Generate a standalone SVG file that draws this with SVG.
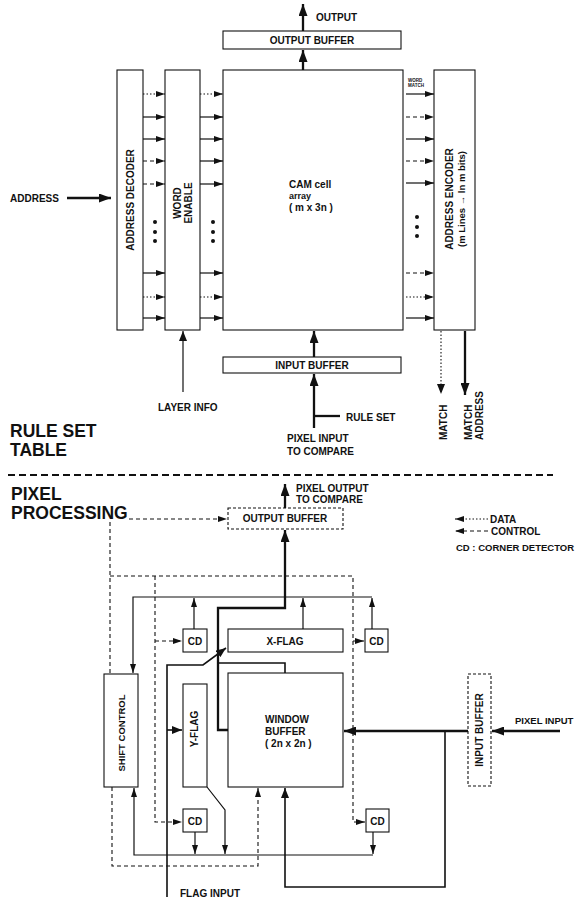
<svg xmlns="http://www.w3.org/2000/svg" width="578" height="904" viewBox="0 0 578 904">
<defs>
<marker id="s" markerUnits="userSpaceOnUse" markerWidth="9" markerHeight="6" refX="9" refY="3" orient="auto"><path d="M0,0 L9,3 L0,6 z" fill="#111"/></marker>
<marker id="m" markerUnits="userSpaceOnUse" markerWidth="10" markerHeight="8" refX="10" refY="4" orient="auto"><path d="M0,0 L10,4 L0,8 z" fill="#111"/></marker>
<marker id="L" markerUnits="userSpaceOnUse" markerWidth="12" markerHeight="9" refX="12" refY="4.5" orient="auto"><path d="M0,0 L12,4.5 L0,9 z" fill="#111"/></marker>
</defs>
<style>
.t{font-family:"Liberation Sans",Arial,sans-serif;font-weight:bold;fill:#111;font-size:10px}
.h{font-size:17.5px}
.box{fill:#fff;stroke:#111;stroke-width:1.1}
.dbox{fill:#fff;stroke:#111;stroke-width:1.1;stroke-dasharray:3 2}
.ln{fill:none;stroke:#111;stroke-width:1.2}
.md{fill:none;stroke:#111;stroke-width:1.6}
.th{fill:none;stroke:#111;stroke-width:2.3}
.dash{fill:none;stroke:#111;stroke-width:1.1;stroke-dasharray:4 3}
.dot{fill:none;stroke:#111;stroke-width:1.1;stroke-dasharray:1.5 2}
</style>
<rect width="578" height="904" fill="#fff"/>

<!-- ===== RULE SET TABLE ===== -->
<g id="connectors-top">
<path class="th" d="M303,31 V4" marker-end="url(#L)"/>
<path class="th" d="M303,70 V50" marker-end="url(#L)"/>
<path class="th" d="M67,198 H111" marker-end="url(#L)"/>
<path class="th" d="M314,357 V331" marker-end="url(#L)"/>
<path class="th" d="M314,428 V374" marker-end="url(#L)"/>
<path class="th" d="M314,416 H340"/>
<path class="ln" d="M183,392 V331" marker-end="url(#m)"/>
<path class="dot" d="M441,331 V394" marker-end="url(#m)"/>
<path class="th" d="M465,331 V395" marker-end="url(#L)"/>
<!-- decoder -> word enable -->
<path class="dot" d="M143,94 H165" marker-end="url(#s)"/>
<path class="ln" d="M143,117 H165" marker-end="url(#s)"/>
<path class="ln" d="M143,139 H165" marker-end="url(#s)"/>
<path class="dash" d="M143,161 H165" marker-end="url(#s)"/>
<path class="dash" d="M143,184 H165" marker-end="url(#s)"/>
<path class="ln" d="M143,273 H165" marker-end="url(#s)"/>
<path class="dot" d="M143,297 H165" marker-end="url(#s)"/>
<path class="ln" d="M143,318 H165" marker-end="url(#s)"/>
<!-- word enable -> CAM -->
<path class="dot" d="M200,94 H223" marker-end="url(#s)"/>
<path class="ln" d="M200,117 H223" marker-end="url(#s)"/>
<path class="ln" d="M200,139 H223" marker-end="url(#s)"/>
<path class="ln" d="M200,161 H223" marker-end="url(#s)"/>
<path class="ln" d="M200,184 H223" marker-end="url(#s)"/>
<path class="ln" d="M200,273 H223" marker-end="url(#s)"/>
<path class="dot" d="M200,297 H223" marker-end="url(#s)"/>
<path class="ln" d="M200,318 H223" marker-end="url(#s)"/>
<!-- CAM -> encoder -->
<path class="ln" d="M406,94 H434" marker-end="url(#s)"/>
<path class="dash" d="M406,117 H434" marker-end="url(#s)"/>
<path class="ln" d="M406,139 H434" marker-end="url(#s)"/>
<path class="dash" d="M406,161 H434" marker-end="url(#s)"/>
<path class="ln" d="M406,183 H434" marker-end="url(#s)"/>
<path class="dash" d="M406,273 H434" marker-end="url(#s)"/>
<path class="dot" d="M406,297 H434" marker-end="url(#s)"/>
<path class="ln" d="M406,318 H434" marker-end="url(#s)"/>
<g fill="#111">
<circle cx="155" cy="222" r="2"/><circle cx="155" cy="232" r="2"/><circle cx="155" cy="241" r="2"/>
<circle cx="213" cy="222" r="2"/><circle cx="213" cy="232" r="2"/><circle cx="213" cy="241" r="2"/>
<circle cx="417" cy="217" r="2"/><circle cx="417" cy="227" r="2"/><circle cx="417" cy="236" r="2"/>
</g>
</g>

<g id="output-buffer-top">
<rect class="box" x="223" y="31" width="178" height="18"/>
<text class="t" x="312" y="44" text-anchor="middle">OUTPUT BUFFER</text>
</g>
<g id="cam-array">
<rect class="box" x="223" y="70" width="180" height="260"/>
<text class="t" x="289" y="188">CAM cell</text>
<text class="t" x="289" y="199" style="font-size:9px">array</text>
<text class="t" x="289" y="211">( m x 3n )</text>
</g>
<g id="address-decoder">
<rect class="box" x="117" y="70" width="26" height="260"/>
<text class="t" transform="translate(133.5,200) rotate(-90)" text-anchor="middle">ADDRESS DECODER</text>
</g>
<g id="word-enable">
<rect class="box" x="165" y="70" width="35" height="260"/>
<text class="t" transform="translate(181,203) rotate(-90)" text-anchor="middle">WORD</text>
<text class="t" transform="translate(191.5,203) rotate(-90)" text-anchor="middle">ENABLE</text>
</g>
<g id="address-encoder">
<rect class="box" x="434" y="70" width="41" height="260"/>
<text class="t" transform="translate(453,199) rotate(-90)" text-anchor="middle">ADDRESS ENCODER</text>
<text class="t" transform="translate(464.5,199) rotate(-90)" text-anchor="middle" style="font-size:9.5px">(m Lines → ln m bits)</text>
</g>
<g id="input-buffer-top">
<rect class="box" x="223" y="357" width="178" height="16"/>
<text class="t" x="312" y="369" text-anchor="middle">INPUT BUFFER</text>
</g>

<g id="labels-top">
<text class="t" x="316" y="21">OUTPUT</text>
<text class="t" x="10" y="202">ADDRESS</text>
<text class="t" x="408" y="82" style="font-size:4.5px">WORD</text>
<text class="t" x="408" y="87" style="font-size:4.5px">MATCH</text>
<text class="t" x="158" y="411">LAYER INFO</text>
<text class="t" x="346" y="421">RULE SET</text>
<text class="t" x="287" y="442">PIXEL INPUT</text>
<text class="t" x="287" y="455">TO COMPARE</text>
<text class="t" transform="translate(446.5,440) rotate(-90)">MATCH</text>
<text class="t" transform="translate(471.5,440) rotate(-90)">MATCH</text>
<text class="t" transform="translate(482.5,440) rotate(-90)">ADDRESS</text>
<text class="t h" x="10" y="437">RULE SET</text>
<text class="t h" x="10" y="456">TABLE</text>
</g>

<path d="M8,475 H553" fill="none" stroke="#111" stroke-width="2" stroke-dasharray="7 4"/>

<!-- ===== PIXEL PROCESSING ===== -->
<g id="connectors-bottom">
<path class="th" d="M285,508 V484" marker-end="url(#L)"/>
<path class="dash" d="M129,519 H227" marker-end="url(#s)"/>
<path class="dash" d="M110,522 V674"/>
<path class="dash" d="M110,576 H353 V822 H365" marker-end="url(#s)"/>
<path class="dash" d="M353,641 H364" marker-end="url(#s)"/>
<path class="dash" d="M155,576 V822 H182" marker-end="url(#s)"/>
<path class="dash" d="M155,641 H182" marker-end="url(#s)"/>
<path class="dash" d="M112,787 V866 H258 V788" marker-end="url(#s)"/>
<path class="th" d="M228,730 H218 V608 H285 V530" marker-end="url(#L)"/>
<path class="md" d="M285,673 V663 H218"/>
<path class="md" d="M167,897 V665 H203 L226,648" marker-end="url(#m)"/>
<path class="md" d="M167,730 H182" marker-end="url(#m)"/>
<path class="th" d="M560,731 H492" marker-end="url(#L)"/>
<path class="th" d="M468,731 H344" marker-end="url(#L)"/>
<path class="md" d="M445,731 V887 H285 V788" marker-end="url(#m)"/>
<path class="ln" d="M372,597 H133 V673" marker-end="url(#s)"/>
<path class="ln" d="M194,629 V598" marker-end="url(#s)"/>
<path class="ln" d="M303,629 V598" marker-end="url(#s)"/>
<path class="ln" d="M372,629 V598" marker-end="url(#s)"/>
<path class="ln" d="M373,855 H134 V788" marker-end="url(#s)"/>
<path class="ln" d="M195,832 V854" marker-end="url(#s)"/>
<path class="ln" d="M373,832 V854" marker-end="url(#s)"/>
<path class="ln" d="M207,787 L225,810 V854" marker-end="url(#s)"/>
<path class="dot" d="M488,519 H455" marker-end="url(#s)"/>
<path class="dash" d="M488,531 H455" marker-end="url(#s)"/>
</g>

<g id="output-buffer-bottom">
<rect class="dbox" x="228" y="508" width="115" height="21"/>
<text class="t" x="285" y="522" text-anchor="middle">OUTPUT BUFFER</text>
</g>
<g id="cd-top-left">
<rect class="box" x="183" y="629" width="24" height="23"/>
<text class="t" x="195" y="644.5" text-anchor="middle">CD</text>
</g>
<g id="x-flag">
<rect class="box" x="228" y="629" width="115" height="23"/>
<text class="t" x="285" y="644.5" text-anchor="middle">X-FLAG</text>
</g>
<g id="cd-top-right">
<rect class="box" x="365" y="629" width="23" height="23"/>
<text class="t" x="376.5" y="644.5" text-anchor="middle">CD</text>
</g>
<g id="shift-control">
<rect class="box" x="104" y="674" width="34" height="113"/>
<text class="t" transform="translate(124.5,733) rotate(-90)" text-anchor="middle" style="font-size:9.5px">SHIFT  CONTROL</text>
</g>
<g id="y-flag">
<rect class="box" x="183" y="684" width="24" height="103"/>
<text class="t" transform="translate(198,729) rotate(-90)" text-anchor="middle">Y-FLAG</text>
</g>
<g id="window-buffer">
<rect class="box" x="228" y="673" width="115" height="114"/>
<text class="t" x="265" y="723">WINDOW</text>
<text class="t" x="265" y="735">BUFFER</text>
<text class="t" x="265" y="747">( 2n x 2n )</text>
</g>
<g id="input-buffer-bottom">
<rect class="dbox" x="468" y="674" width="23" height="112"/>
<text class="t" transform="translate(483,730) rotate(-90)" text-anchor="middle">INPUT BUFFER</text>
</g>
<g id="cd-bottom-left">
<rect class="box" x="183" y="809" width="24" height="23"/>
<text class="t" x="195" y="824.5" text-anchor="middle">CD</text>
</g>
<g id="cd-bottom-right">
<rect class="box" x="366" y="809" width="23" height="23"/>
<text class="t" x="377.5" y="824.5" text-anchor="middle">CD</text>
</g>

<g id="labels-bottom">
<text class="t h" x="11" y="500">PIXEL</text>
<text class="t h" x="11" y="519">PROCESSING</text>
<text class="t" x="296" y="492">PIXEL OUTPUT</text>
<text class="t" x="296" y="503">TO COMPARE</text>
<text class="t" x="490" y="523">DATA</text>
<text class="t" x="491" y="535">CONTROL</text>
<text class="t" x="456" y="551" style="font-size:9.5px">CD : CORNER DETECTOR</text>
<text class="t" x="515" y="724" style="font-size:9.5px">PIXEL INPUT</text>
<text class="t" x="180" y="897">FLAG INPUT</text>
</g>
</svg>
